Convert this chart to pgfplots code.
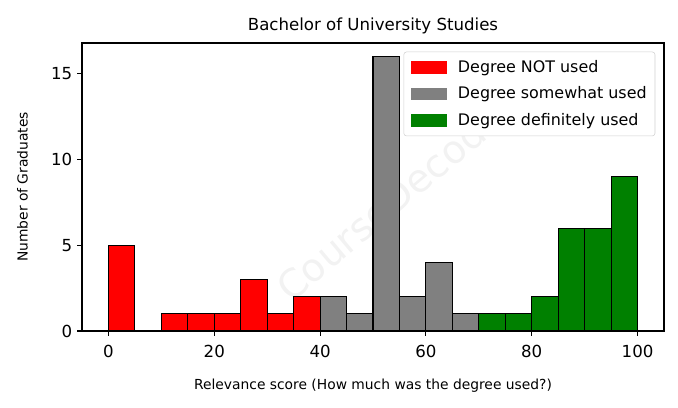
\documentclass[border=0pt]{standalone}
\usepackage{fontspec}
\setmainfont{DejaVu Sans}
\usepackage{pgfplots}
\pgfplotsset{compat=1.18}
\definecolor{mplgreen}{RGB}{0,128,0}
\definecolor{mplgray}{RGB}{128,128,128}
\begin{document}
\begin{tikzpicture}
\begin{axis}[
  name=ax,
  scale only axis,
  width=5.82in, height=2.88in,
  xmin=-5, xmax=105, ymin=0, ymax=16.8,
  xtick={0,20,40,60,80,100},
  ytick={0,5,10,15},
  tick align=outside,
  major tick length=3.5pt,
  xtick pos=bottom, ytick pos=left,
  tick style={black, line width=0.8pt},
  axis line style={line width=0.8pt},
  /pgf/number format/assume math mode=true,
  ticklabel style={font=\fontsize{12}{14}\selectfont},
  xticklabel style={yshift=-3pt},
  title={Bachelor of University Studies},
  title style={font=\fontsize{12}{14}\selectfont, yshift=-3pt},
  xlabel={Relevance score (How much was the degree used?)},
  ylabel={Number of Graduates},
  label style={font=\fontsize{10}{12}\selectfont},
  xlabel style={yshift=-9pt},
  ylabel style={yshift=10pt},
  legend style={at={(rel axis cs:0.985,0.97)}, anchor=north east,
    font=\fontsize{11.5}{13}\selectfont, draw=black!18, rounded corners=2pt,
    fill=white, row sep=7pt, inner sep=5pt, nodes={inner sep=1pt}},
  legend cell align=left,
  legend image code/.code={\fill[#1, draw=none, rounded corners=0pt] (0cm,-0.16cm) rectangle (0.92cm,0.16cm);},
]
\node[rotate=40, text=black, text opacity=0.05, font=\fontsize{28}{28}\selectfont] at (axis cs:55,8) {CourseDecoded};
\addplot[ybar interval, fill=red, draw=black, line width=0.8pt] coordinates {
(0,5)(5,0)(10,1)(15,1)(20,1)(25,3)(30,1)(35,2)(40,0)};
\addlegendentry{\hspace{7pt}Degree NOT used}
\addplot[ybar interval, fill=mplgray, draw=black, line width=0.8pt] coordinates {
(40,2)(45,1)(50,16)(55,2)(60,4)(65,1)(70,0)};
\addlegendentry{\hspace{7pt}Degree somewhat used}
\addplot[ybar interval, fill=mplgreen, draw=black, line width=0.8pt] coordinates {
(70,1)(75,1)(80,2)(85,6)(90,6)(95,9)(100,0)};
\addlegendentry{\hspace{7pt}Degree definitely used}
\end{axis}
\pgfresetboundingbox
\path[use as bounding box] ([shift={(-0.82in,-0.77in)}]ax.south west) rectangle ([shift={(0.14in,0.43in)}]ax.north east);
\end{tikzpicture}
\end{document}
